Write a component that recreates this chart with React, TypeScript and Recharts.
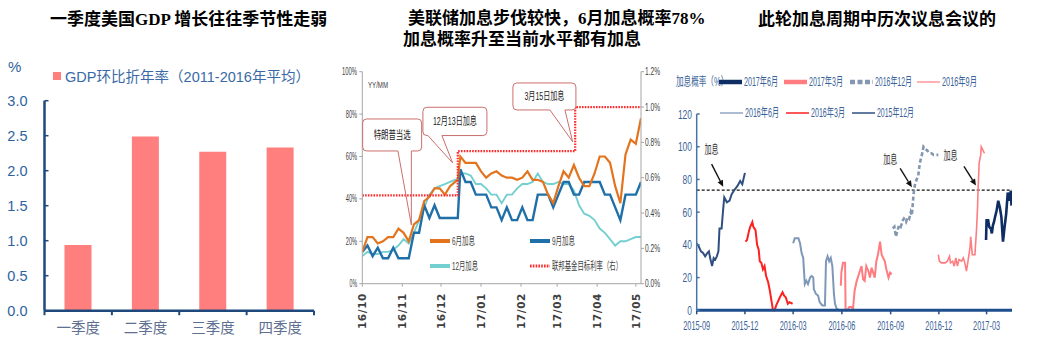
import React from 'react';
import { BarChart, Bar, LineChart, Line, XAxis, YAxis, ReferenceLine, ReferenceDot } from 'recharts';

const FONT = '"Liberation Sans", "Noto Sans CJK SC", sans-serif';
const TITLE_FONT = '"Liberation Serif", "Noto Sans CJK SC", serif';
const DAY_MS = 86400000;
const dayIndex = (origin: string, d: string) => Math.round((Date.parse(d) - Date.parse(origin)) / DAY_MS);

// ================= Panel 1 data =================
const panel1Title = '一季度美国GDP 增长往往季节性走弱';
const quarterLabels = ['一季度', '二季度', '三季度', '四季度'];
const gdpAnnualized = [0.94, 2.49, 2.27, 2.33];
const gdpTicks = [0, 0.5, 1.0, 1.5, 2.0, 2.5, 3.0];
const gdpLegend = 'GDP环比折年率（2011-2016年平均）';
const gdpUnit = '%';

// ================= Panel 2 data =================
const panel2TitleLine1 = '美联储加息步伐较快，6月加息概率78%';
const panel2TitleLine2 = '加息概率升至当前水平都有加息';
const probDates = [
  '2016-10-01', '2016-10-05', '2016-10-09', '2016-10-13', '2016-10-17', '2016-10-21', '2016-10-25', '2016-10-29',
  '2016-11-02', '2016-11-06', '2016-11-10', '2016-11-14', '2016-11-18', '2016-11-22', '2016-11-26', '2016-11-30',
  '2016-12-04', '2016-12-08', '2016-12-12', '2016-12-14', '2016-12-16', '2016-12-20', '2016-12-24', '2016-12-28',
  '2017-01-01', '2017-01-05', '2017-01-09', '2017-01-13', '2017-01-17', '2017-01-21', '2017-01-25', '2017-01-29',
  '2017-02-02', '2017-02-06', '2017-02-10', '2017-02-14', '2017-02-18', '2017-02-22', '2017-02-26',
  '2017-03-02', '2017-03-06', '2017-03-10', '2017-03-14', '2017-03-18', '2017-03-22', '2017-03-26', '2017-03-30',
  '2017-04-03', '2017-04-07', '2017-04-11', '2017-04-15', '2017-04-19', '2017-04-23', '2017-04-27',
  '2017-05-01', '2017-05-05',
];
const probJune = [
  15, 22, 22, 19, 20, 22, 22, 26, 24, 20,
  28, 30, 39, 41, 45, 45, 42, 46, 48, 49,
  60, 57, 57, 57, 53, 50, 52, 53, 51, 50,
  50, 49, 50, 53, 49, 49, 48, 42, 38, 46,
  53, 50, 56, 50, 46, 46, 52, 60, 60, 57,
  46, 38, 61, 68, 66, 78,
];
const probSept = [
  15, 18, 13, 17, 12, 12, 17, 12, 12, 12,
  24, 24, 37, 31, 37, 31, 31, 31, 31, 31,
  54, 48, 48, 42, 42, 42, 36, 36, 30, 36,
  30, 30, 36, 30, 30, 42, 42, 42, 36, 42,
  48, 48, 42, 42, 48, 48, 48, 48, 42, 42,
  36, 30, 42, 42, 42, 48,
];
const probDecember = [
  13, 15, 14, 14, 15, 15, 16, 18, 21, 19,
  24, 30, 36, 42, 45, 46, 47, 48, 49, 49,
  52, 52, 51, 47, 47, 45, 42, 42, 38, 42,
  42, 45, 47, 47, 48, 52, 48, 47, 47, 48,
  47, 47, 44, 37, 33, 32, 30, 26, 24, 21,
  18, 20, 20, 21, 22, 22,
];
const fedDates = ['2016-10-01', '2016-12-14', '2017-03-15', '2017-05-05'];
const fedTarget = [0.5, 0.75, 1.0, 1.0];
const monthTickDates = ['2016-10-01', '2016-11-01', '2016-12-01', '2017-01-01', '2017-02-01', '2017-03-01', '2017-04-01', '2017-05-01'];
const monthTickLabels = ['16/10', '16/11', '16/12', '17/01', '17/02', '17/03', '17/04', '17/05'];
const probTicks = [0, 20, 40, 60, 80, 100];
const rateTicks = [0, 0.2, 0.4, 0.6, 0.8, 1.0, 1.2];
const eventLabels = ['特朗普当选', '12月13日加息', '3月15日加息'];
const eventDates = ['2016-11-08', '2016-12-10', '2017-03-13'];
const eventValues = [27.7, 57, 67];
const panel2Unit = 'YY/MM';
const panel2Names = ['6月加息', '9月加息', '12月加息', '联邦基金目标利率（右）'];

// ================= Panel 3 data =================
const panel3Title = '此轮加息周期中历次议息会议的';
const panel3AxisLabel = '加息概率（%）';
const meetingNames = ['2017年6月', '2017年3月', '2016年12月', '2016年9月', '2016年6月', '2016年3月', '2015年12月'];
const jun17Dates = ['2017-02-28', '2017-03-01', '2017-03-04', '2017-03-06', '2017-03-09', '2017-03-11', '2017-03-13', '2017-03-15', '2017-03-17', '2017-03-20', '2017-03-23', '2017-03-26', '2017-03-29', '2017-04-01', '2017-04-04', '2017-04-07', '2017-04-10', '2017-04-12', '2017-04-14', '2017-04-16', '2017-04-17'];
const jun17Probs = [43, 55, 55, 51, 50, 47, 52, 54, 57, 61, 67, 63, 57, 42, 51, 59, 72, 67, 70, 73, 64];
const mar17Dates = ['2016-11-30', '2016-12-02', '2016-12-06', '2016-12-13', '2016-12-17', '2016-12-21', '2016-12-23', '2016-12-27', '2016-12-30', '2017-01-02', '2017-01-05', '2017-01-08', '2017-01-13', '2017-01-16', '2017-01-19', '2017-01-22', '2017-01-25', '2017-01-29', '2017-01-30', '2017-02-02', '2017-02-07', '2017-02-10', '2017-02-12', '2017-02-13', '2017-02-15', '2017-02-18', '2017-02-19', '2017-02-22', '2017-02-25'];
const mar17Probs = [34, 30, 29, 29, 30, 33, 29, 30, 27, 32, 27, 31, 30, 32, 29, 24, 30, 39, 45, 34, 34, 49, 63, 74, 90, 95, 100, 98, 96];
const dec16Dates = ['2016-09-05', '2016-09-08', '2016-09-11', '2016-09-14', '2016-09-17', '2016-09-20', '2016-09-24', '2016-09-26', '2016-09-30', '2016-10-03', '2016-10-06', '2016-10-09', '2016-10-11', '2016-10-14', '2016-10-15', '2016-10-17', '2016-10-20', '2016-10-23', '2016-10-26', '2016-10-30', '2016-11-02', '2016-11-05', '2016-11-08', '2016-11-11', '2016-11-14', '2016-11-17', '2016-11-21', '2016-11-27', '2016-11-30'];
const dec16Probs = [50, 51, 45, 49, 52, 51, 55, 56, 54, 57, 56, 60, 58, 70, 73, 77, 80, 82, 90, 95, 100, 99, 98, 97, 96, 96, 95, 95, 95];
const sep16Dates = ['2016-05-30', '2016-05-31', '2016-06-03', '2016-06-07', '2016-06-08', '2016-06-11', '2016-06-15', '2016-06-19', '2016-06-22', '2016-06-25', '2016-06-29', '2016-07-02', '2016-07-05', '2016-07-08', '2016-07-11', '2016-07-14', '2016-07-17', '2016-07-21', '2016-07-24', '2016-07-27', '2016-07-30', '2016-08-02', '2016-08-05', '2016-08-08', '2016-08-12', '2016-08-15', '2016-08-18', '2016-08-21', '2016-08-24', '2016-08-28', '2016-08-31', '2016-09-03'];
const sep16Probs = [15, 23, 29, 29, 0, 0, 2, 2, 1, 12, 18, 21, 24, 27, 19, 18, 27, 24, 20, 26, 23, 20, 30, 34, 42, 34, 32, 30, 25, 20, 23, 22];
const jun16Dates = ['2016-03-01', '2016-03-04', '2016-03-11', '2016-03-14', '2016-03-17', '2016-03-20', '2016-03-23', '2016-03-26', '2016-03-29', '2016-04-02', '2016-04-05', '2016-04-08', '2016-04-09', '2016-04-13', '2016-04-17', '2016-04-20', '2016-04-25', '2016-04-30', '2016-05-02', '2016-05-05', '2016-05-08', '2016-05-11', '2016-05-14', '2016-05-17', '2016-05-19', '2016-05-22', '2016-05-28', '2016-05-31'];
const jun16Probs = [41, 44, 44, 41, 35, 32, 16, 18, 16, 20, 21, 20, 13, 10, 9, 5, 3, 3, 30, 33, 30, 32, 27, 10, 4, 1, 0, 0];
const mar16Dates = ['2015-12-02', '2015-12-05', '2015-12-09', '2015-12-11', '2015-12-15', '2015-12-17', '2015-12-21', '2015-12-24', '2015-12-27', '2015-12-29', '2016-01-01', '2016-01-04', '2016-01-07', '2016-01-10', '2016-01-14', '2016-01-17', '2016-01-20', '2016-01-23', '2016-01-26', '2016-01-29', '2016-02-05', '2016-02-10', '2016-02-13', '2016-02-16', '2016-02-20', '2016-02-23', '2016-02-29'];
const mar16Probs = [42, 43, 49, 51, 54, 51, 49, 40, 37, 30, 29, 25, 27, 21, 17, 12, 6, 0, 0, 3, 8, 11, 9, 8, 4, 5, 4];
const dec15Dates = ['2015-09-01', '2015-09-05', '2015-09-09', '2015-09-13', '2015-09-17', '2015-09-21', '2015-09-24', '2015-09-27', '2015-09-30', '2015-10-03', '2015-10-06', '2015-10-09', '2015-10-12', '2015-10-14', '2015-10-18', '2015-10-21', '2015-10-23', '2015-10-28', '2015-11-02', '2015-11-06', '2015-11-12', '2015-11-17', '2015-11-22', '2015-11-26', '2015-12-01'];
const dec15Probs = [41, 39, 36, 35, 33, 35, 36, 31, 27, 32, 31, 33, 36, 50, 50, 62, 69, 66, 67, 71, 74, 76, 79, 77, 84];
const quarterTickDates = ['2015-09-01', '2015-12-01', '2016-03-01', '2016-06-01', '2016-09-01', '2016-12-01', '2017-03-01'];
const quarterTickLabels = ['2015-09', '2015-12', '2016-03', '2016-06', '2016-09', '2016-12', '2017-03'];
const hikeProbTicks = [0, 20, 40, 60, 80, 100, 120];
const hikeThreshold = 73.5;
const hikeLabel = '加息';
const hikeDates = ['2015-10-21', '2016-10-11', '2017-02-09'];
const hikeLevels = [75.5, 75.2, 76.3];

// ================= Tables built from the arrays =================
const gdpData = quarterLabels.map((q, i) => ({ q, v: gdpAnnualized[i] }));
const P2_ORIGIN = '2016-10-01';
const P2_END = dayIndex(P2_ORIGIN, '2017-05-05');
const probData = probDates.map((d, i) => ({ t: dayIndex(P2_ORIGIN, d), jun: probJune[i], sep: probSept[i], dec: probDecember[i] }));
const fedData = fedDates.map((d, i) => ({ t: dayIndex(P2_ORIGIN, d), v: fedTarget[i] }));
const p2Ticks = monthTickDates.map((d) => dayIndex(P2_ORIGIN, d));
const p2TickLabel: Record<number, string> = Object.fromEntries(p2Ticks.map((t, i) => [t, monthTickLabels[i]]));

const P3_ORIGIN = '2015-09-01';
const P3_END = dayIndex(P3_ORIGIN, '2017-04-18');
const toSeries = (dates: string[], vals: number[]) => dates.map((d, i) => ({ t: dayIndex(P3_ORIGIN, d), v: vals[i] }));
const meetingData = [
  toSeries(jun17Dates, jun17Probs),
  toSeries(mar17Dates, mar17Probs),
  toSeries(dec16Dates, dec16Probs),
  toSeries(sep16Dates, sep16Probs),
  toSeries(jun16Dates, jun16Probs),
  toSeries(mar16Dates, mar16Probs),
  toSeries(dec15Dates, dec15Probs),
];
const p3Ticks = quarterTickDates.map((d) => dayIndex(P3_ORIGIN, d));
const p3TickLabel: Record<number, string> = Object.fromEntries(p3Ticks.map((t, i) => [t, quarterTickLabels[i]]));

// ================= Styles =================
const P1_AXIS = '#1F497D';
const P1_TICK = '#2E63A0';
const P1_CAT = '#5F6F8F';
const P1_BAR = '#FF7F7F';
const P2_AXIS = '#A6A6A6';
const P2_TEXT = '#404040';
const p2Styles = [
  { color: '#E3741D', width: 2.2 },
  { color: '#1F70A9', width: 2.4 },
  { color: '#74CFD1', width: 1.9 },
  { color: '#FF2B2B', width: 2.2, dash: '1.6 1.2' },
];
const p2LegendPos = [
  { x: 430, y: 241, tw: 23 },
  { x: 530, y: 241, tw: 23 },
  { x: 430, y: 266, tw: 26 },
  { x: 530, y: 266, tw: 70 },
];
const bubbleLayout = [
  { bx: -48.7, by: -106, bw: 59, bh: 32, w1: -13.4, w2: 0, tx: -19.2, ty: -90, tw: 37 },
  { bx: -29.7, by: -55.6, bw: 64, bh: 28.3, w1: -24.7, w2: -10.7, tx: 2.3, ty: -41.4, tw: 44 },
  { bx: -59.7, by: -58.7, bw: 63, bh: 27, w1: -22.7, w2: -7.7, tx: -28.2, ty: -45.2, tw: 40 },
];
const P3_TEXT = '#3B6398';
const P3_AXIS = '#4A74A8';
const p3Styles = [
  { color: '#0E2D63', width: 2.6, legendW: 4.5 },
  { color: '#FF7C80', width: 1.6, legendW: 4.5 },
  { color: '#8497B0', width: 2.6, dash: '4 2.5', legendW: 4.5, legendDash: '5 2.5' },
  { color: '#FF7C80', width: 2, legendW: 1.2 },
  { color: '#7F98B8', width: 2, legendW: 1.3 },
  { color: '#FF2020', width: 2, legendW: 1.5 },
  { color: '#2F4F80', width: 2, legendW: 1.5 },
];
const p3LegendPos = [
  { x: 719, y: 82, tw: 34 },
  { x: 784, y: 82, tw: 34 },
  { x: 850, y: 82, tw: 37 },
  { x: 917, y: 82, tw: 35 },
  { x: 720, y: 113, tw: 34 },
  { x: 786, y: 113, tw: 34 },
  { x: 852, y: 113, tw: 37 },
];
const hikeLayout = [
  { ax: -11.6, ay: -22.7, lx: -11.8, ly: -36.7 },
  { ax: -11.7, ay: -19, lx: -21.7, ly: -27.3 },
  { ax: -12, ay: -19, lx: -25.5, ly: -29 },
];

// ================= Small helpers =================
type NTProps = { x: number; y: number; w?: number; size: number; fill: string; anchor?: 'start' | 'middle' | 'end'; weight?: number | string; family?: string; children: React.ReactNode };
const NText = ({ x, y, w, size, fill, anchor = 'start', weight, family = FONT, children }: NTProps) => (
  <text
    x={x}
    y={y}
    fontSize={size}
    fill={fill}
    textAnchor={anchor}
    dominantBaseline="central"
    fontFamily={family}
    fontWeight={weight}
    {...(w ? { textLength: w, lengthAdjust: 'spacingAndGlyphs' } : {})}
  >
    {children}
  </text>
);

// ---------- Panel 1 ticks ----------
const GdpYTick = (p: any) => (
  <NText x={p.x} y={p.y} size={14.5} fill={P1_TICK} anchor="end">{Number(p.payload.value).toFixed(1)}</NText>
);
const QuarterTick = (p: any) => {
  const n = p.visibleTicksCount || quarterLabels.length;
  const half = (Number(p.width) || 269) / n / 2;
  return (
    <g>
      {p.index === 0 && <line x1={p.x - half} y1={p.y} x2={p.x - half} y2={p.y + 4.5} stroke={P1_AXIS} strokeWidth={2} />}
      <line x1={p.x + half} y1={p.y} x2={p.x + half} y2={p.y + 4.5} stroke={P1_AXIS} strokeWidth={2} />
      <NText x={p.x} y={p.y + 17} size={14.5} fill={P1_CAT} anchor="middle">{p.payload.value}</NText>
    </g>
  );
};

// ---------- Panel 2 ticks ----------
const P2LeftTick = (p: any) => {
  const s = `${p.payload.value}%`;
  return <NText x={p.x} y={p.y} w={s.length * 3.75} size={10} fill={P2_TEXT} anchor="end">{s}</NText>;
};
const P2RightTick = (p: any) => {
  const s = `${Number(p.payload.value).toFixed(1)}%`;
  return <NText x={p.x} y={p.y} w={s.length * 3.75} size={10} fill={P2_TEXT} anchor="start">{s}</NText>;
};
// Vertical month labels (read bottom-to-top), rotation applied on a wrapping group
const P2MonthTick = (p: any) => {
  const s = p2TickLabel[p.payload.value] ?? '';
  const top = p.y + 6.3;
  return (
    <g transform={`translate(${p.x} ${top}) rotate(-90)`}>
      <text x={0} y={0} textAnchor="end" dominantBaseline="central" fontSize={10.5} fontWeight={700} fontFamily='"DejaVu Sans", sans-serif' fill={P2_TEXT} letterSpacing={0.6}>
        {s}
      </text>
    </g>
  );
};

// ---------- Panel 3 ticks ----------
const P3YTick = (p: any) => {
  const s = `${p.payload.value}`;
  return <NText x={p.x} y={p.y} w={s.length * 4.7} size={13.5} fill={P3_TEXT} anchor="end">{s}</NText>;
};
const P3XTick = (p: any) => (
  <NText x={p.x} y={p.y + 10.7} w={27} size={13.5} fill={P3_TEXT} anchor="middle">{p3TickLabel[p.payload.value] ?? ''}</NText>
);

// ---------- Callouts ----------
const Bubble = ({ cx, cy, label, L }: any) => {
  const x0 = cx + L.bx, y0 = cy + L.by, x1 = x0 + L.bw, y1 = y0 + L.bh, r = 4;
  const a = cx + L.w1, b = cx + L.w2;
  const outline = `M${a},${y1} L${cx},${cy} L${b},${y1} H${x1 - r} Q${x1},${y1} ${x1},${y1 - r} V${y0 + r} Q${x1},${y0} ${x1 - r},${y0} H${x0 + r} Q${x0},${y0} ${x0},${y0 + r} V${y1 - r} Q${x0},${y1} ${x0 + r},${y1} Z`;
  return (
    <g>
      <rect x={x0} y={y0} width={L.bw} height={L.bh} rx={r} fill="#fff" />
      <path d={outline} fill="none" stroke="#C96F6D" strokeWidth={1} />
      <NText x={cx + L.tx} y={cy + L.ty} w={L.tw} size={11} fill="#222" anchor="middle">{label}</NText>
    </g>
  );
};

const HikeArrow = ({ cx, cy, L }: any) => {
  const sx = cx + L.ax, sy = cy + L.ay;
  const dx = cx - sx, dy = cy - sy;
  const len = Math.hypot(dx, dy);
  const ux = dx / len, uy = dy / len;
  const hl = 6.5, hw = 3;
  const bx = cx - ux * hl, by = cy - uy * hl;
  const pts = `${cx},${cy} ${bx - uy * hw},${by + ux * hw} ${bx + uy * hw},${by - ux * hw}`;
  return (
    <g>
      <line x1={sx} y1={sy} x2={bx} y2={by} stroke="#111" strokeWidth={1.4} />
      <polygon points={pts} fill="#111" />
      <NText x={cx + L.lx} y={cy + L.ly} w={14} size={12} fill="#333" anchor="middle">{hikeLabel}</NText>
    </g>
  );
};

// ================= Panels =================
const Panel1 = () => (
  <BarChart width={340} height={359} data={gdpData} margin={{ top: 100.7, right: 26, bottom: 18.3, left: 4.5 }}>
    <XAxis dataKey="q" height={30} tickLine={false} tickSize={0} tickMargin={0} axisLine={{ stroke: P1_AXIS, strokeWidth: 2.5 }} tick={<QuarterTick />} interval={0} />
    <YAxis width={40} domain={[0, 3]} ticks={gdpTicks} axisLine={{ stroke: P1_AXIS, strokeWidth: 2.5 }} tickLine={{ stroke: P1_AXIS, strokeWidth: 1.5 }} tickSize={-4} tickMargin={21} tick={<GdpYTick />} />
    <Bar dataKey="v" fill={P1_BAR} barSize={27} isAnimationActive={false} />
  </BarChart>
);

const Panel2 = () => (
  <LineChart width={345} height={359} data={probData} margin={{ top: 71.7, right: 4, bottom: 35.3, left: 5.3 }}>
    <XAxis dataKey="t" type="number" domain={[0, P2_END]} allowDataOverflow ticks={p2Ticks} height={40} tickSize={3} tickMargin={0} axisLine={{ stroke: P2_AXIS }} tickLine={{ stroke: P2_AXIS }} tick={<P2MonthTick />} interval={0} />
    <YAxis yAxisId="left" width={27} domain={[0, 100]} ticks={probTicks} tickSize={3} tickMargin={2.3} axisLine={{ stroke: P2_AXIS }} tickLine={{ stroke: P2_AXIS }} tick={<P2LeftTick />} />
    <YAxis yAxisId="right" orientation="right" width={30} domain={[0, 1.2]} ticks={rateTicks} tickSize={3} tickMargin={1} axisLine={{ stroke: P2_AXIS }} tickLine={{ stroke: P2_AXIS }} tick={<P2RightTick />} />
    <Line yAxisId="left" dataKey="dec" name={panel2Names[2]} type="linear" stroke={p2Styles[2].color} strokeWidth={p2Styles[2].width} dot={false} isAnimationActive={false} />
    <Line yAxisId="left" dataKey="sep" name={panel2Names[1]} type="linear" stroke={p2Styles[1].color} strokeWidth={p2Styles[1].width} dot={false} isAnimationActive={false} />
    <Line yAxisId="left" dataKey="jun" name={panel2Names[0]} type="linear" stroke={p2Styles[0].color} strokeWidth={p2Styles[0].width} dot={false} isAnimationActive={false} />
    <Line yAxisId="right" data={fedData} dataKey="v" name={panel2Names[3]} type="stepAfter" stroke={p2Styles[3].color} strokeWidth={p2Styles[3].width} strokeDasharray={p2Styles[3].dash} dot={false} isAnimationActive={false} />
    {eventLabels.map((lab, i) => (
      <ReferenceDot
        key={lab}
        yAxisId="left"
        x={dayIndex(P2_ORIGIN, eventDates[i])}
        y={eventValues[i]}
        r={0}
        ifOverflow="visible"
        shape={(p: any) => <Bubble cx={p.cx} cy={p.cy} label={lab} L={bubbleLayout[i]} />}
      />
    ))}
  </LineChart>
);

const Panel3 = () => (
  <LineChart width={381} height={359} margin={{ top: 114, right: 29, bottom: 23.7, left: 3.7 }}>
    <XAxis dataKey="t" type="number" domain={[0, P3_END]} allowDataOverflow ticks={p3Ticks} height={25} tickSize={4} tickMargin={0} axisLine={{ stroke: '#1F4E8C', strokeWidth: 3 }} tickLine={{ stroke: '#1F4E8C', strokeWidth: 1.5 }} tick={<P3XTick />} interval={0} />
    <YAxis width={33} domain={[0, 120]} ticks={hikeProbTicks} tickSize={-3} tickMargin={7.7} axisLine={{ stroke: P3_AXIS, strokeWidth: 1.5 }} tickLine={{ stroke: P3_AXIS, strokeWidth: 1.5 }} tick={<P3YTick />} />
    <ReferenceLine y={hikeThreshold} stroke="#111" strokeWidth={1.3} strokeDasharray="3 2" />
    {meetingData.map((d, i) => (
      <Line
        key={meetingNames[i]}
        data={d}
        dataKey="v"
        name={meetingNames[i]}
        type="linear"
        stroke={p3Styles[i].color}
        strokeWidth={p3Styles[i].width}
        strokeDasharray={p3Styles[i].dash}
        dot={false}
        isAnimationActive={false}
      />
    ))}
    {hikeDates.map((d, i) => (
      <ReferenceDot
        key={d}
        x={dayIndex(P3_ORIGIN, d)}
        y={hikeLevels[i]}
        r={0}
        ifOverflow="visible"
        shape={(p: any) => <HikeArrow cx={p.cx} cy={p.cy} L={hikeLayout[i]} />}
      />
    ))}
  </LineChart>
);

const Overlay = () => (
  <svg width={1041} height={359} style={{ position: 'absolute', left: 0, top: 0, pointerEvents: 'none' }}>
    {/* Panel 1 unit and legend */}
    <NText x={8} y={66} size={15} fill={P1_TICK}>{gdpUnit}</NText>
    <rect x={53} y={72} width={8} height={8} fill={P1_BAR} />
    <NText x={65} y={77} w={245} size={14.5} fill="#3A6AA6">{gdpLegend}</NText>

    {/* Panel 2 unit and legend */}
    <NText x={368} y={84} w={20} size={9.5} fill={P2_TEXT}>{panel2Unit}</NText>
    {panel2Names.map((n, i) => {
      const L = p2LegendPos[i];
      const s = p2Styles[i];
      return (
        <g key={n}>
          <line x1={L.x} y1={L.y} x2={L.x + 20} y2={L.y} stroke={s.color} strokeWidth={s.dash ? 3 : 4} strokeDasharray={s.dash} />
          <NText x={L.x + 22} y={L.y} w={L.tw} size={11} fill={P2_TEXT}>{n}</NText>
        </g>
      );
    })}

    {/* Panel 3 legend */}
    <g transform="translate(676,82) scale(1,1.6)">
      <text x={0} y={0} fontSize={7.6} fill={P3_TEXT} dominantBaseline="central" fontFamily={FONT}>{panel3AxisLabel}</text>
    </g>
    {meetingNames.map((n, i) => {
      const L = p3LegendPos[i];
      const s = p3Styles[i];
      return (
        <g key={n}>
          <line x1={L.x} y1={L.y} x2={L.x + 23} y2={L.y} stroke={s.color} strokeWidth={s.legendW} strokeDasharray={s.legendDash} />
          <NText x={L.x + 25} y={L.y} w={L.tw} size={12.5} fill={P3_TEXT}>{n}</NText>
        </g>
      );
    })}
  </svg>
);

const titleStyle = (left: number, top: number): React.CSSProperties => ({
  position: 'absolute',
  left,
  top,
  fontFamily: TITLE_FONT,
  fontWeight: 700,
  fontSize: 17,
  lineHeight: '18px',
  whiteSpace: 'nowrap',
  color: '#000',
});

export default function App() {
  return (
    <div style={{ position: 'absolute', left: 0, top: 0, width: 1041, height: 359, background: '#fff', overflow: 'hidden', fontFamily: FONT }}>
      <div style={{ position: 'absolute', left: 0, top: 0 }}><Panel1 /></div>
      <div style={{ position: 'absolute', left: 330, top: 0 }}><Panel2 /></div>
      <div style={{ position: 'absolute', left: 660, top: 0 }}><Panel3 /></div>
      <Overlay />
      <div style={titleStyle(50, 11)}>{panel1Title}</div>
      <div style={titleStyle(408, 10)}>{panel2TitleLine1}</div>
      <div style={titleStyle(403, 31)}>{panel2TitleLine2}</div>
      <div style={titleStyle(758, 11)}>{panel3Title}</div>
    </div>
  );
}
